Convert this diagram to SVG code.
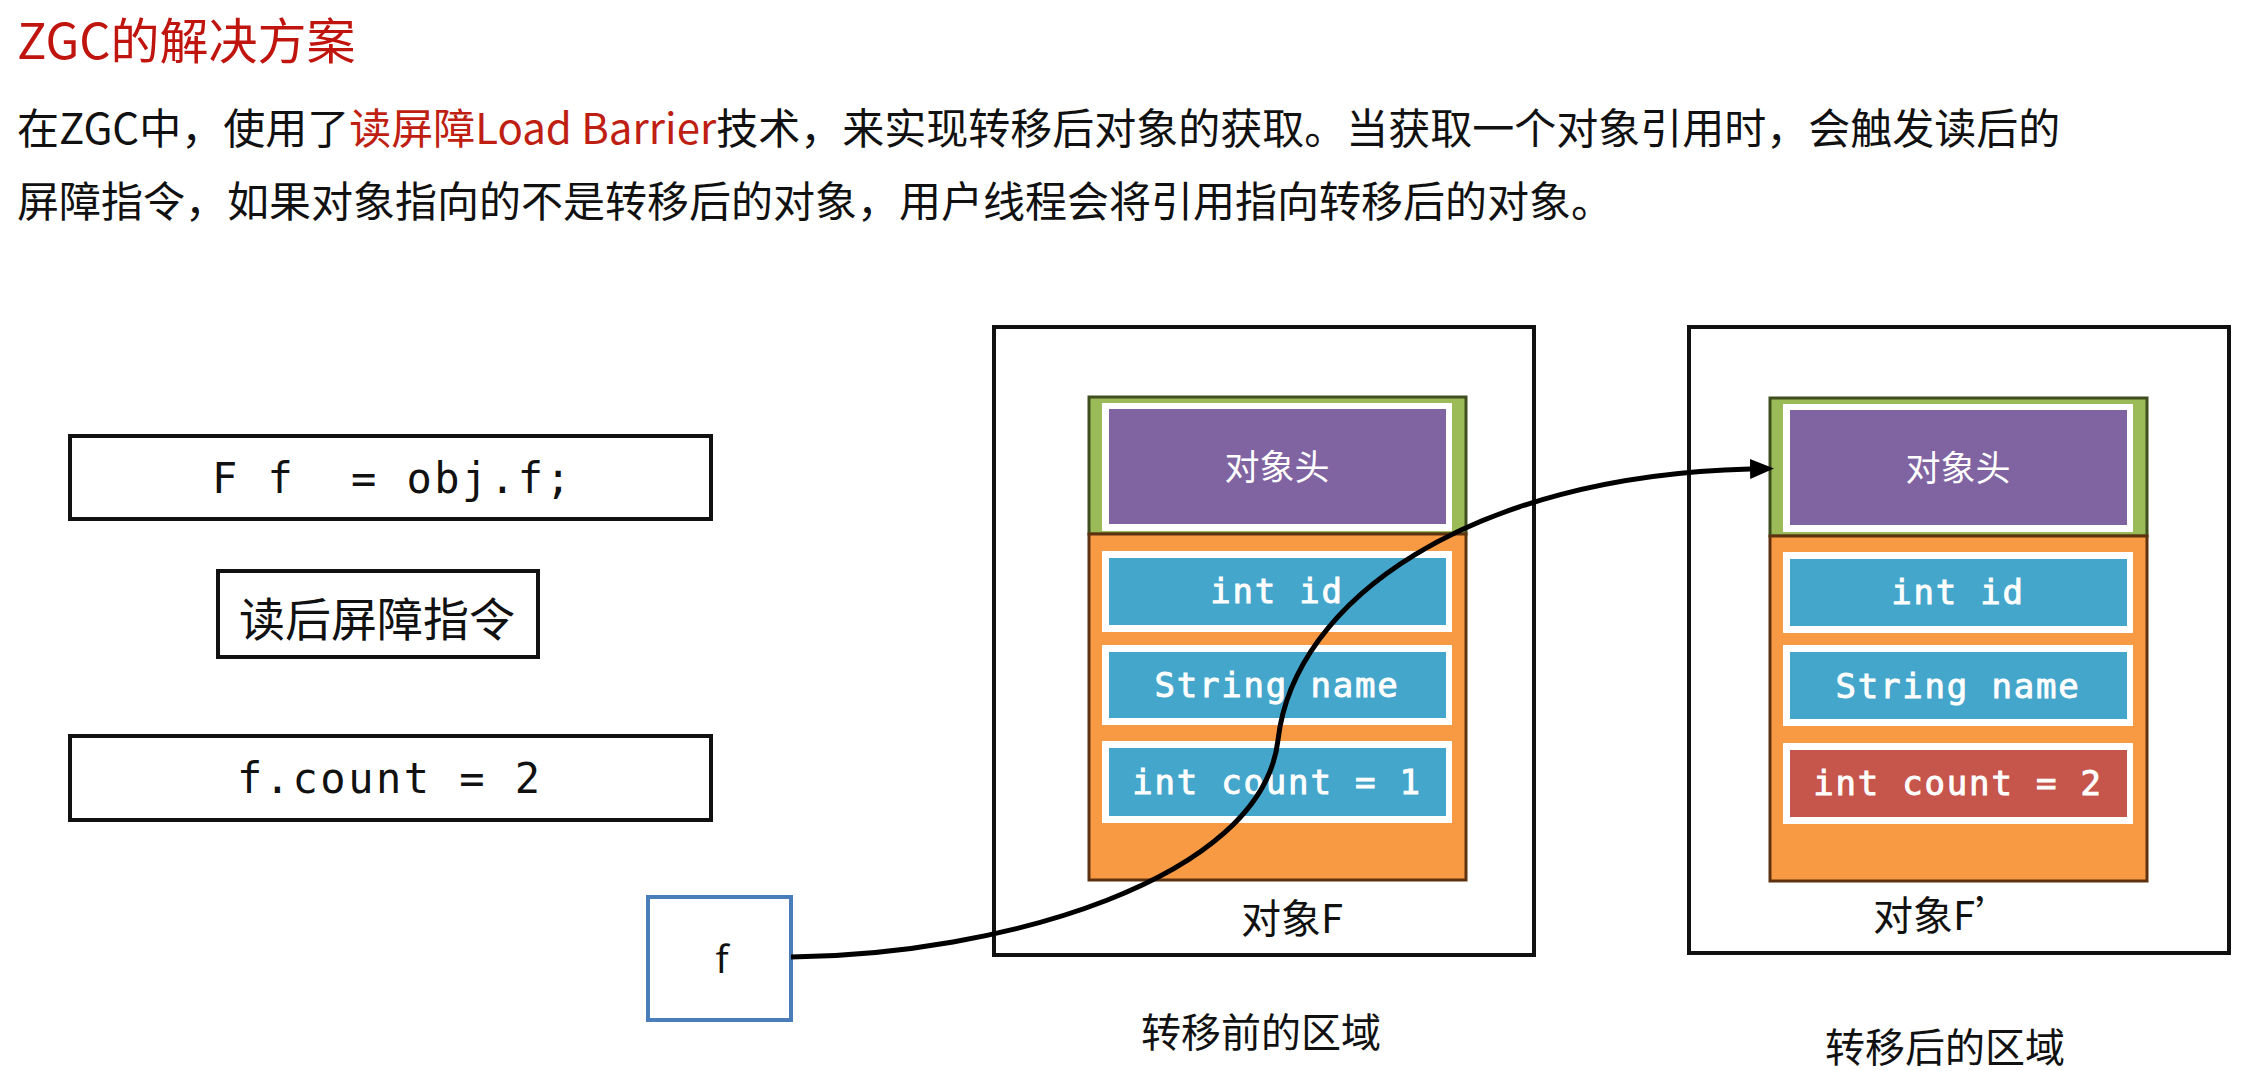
<svg xmlns="http://www.w3.org/2000/svg" width="2264" height="1071" viewBox="0 0 2264 1071">
<defs>
<style>
.cjk{font-family:"Noto Sans CJK SC","Noto Sans",sans-serif;}
.mono{font-family:"DejaVu Sans Mono","Liberation Mono",monospace;}
.box{fill:#fff;stroke:#111;stroke-width:4;}
.region{fill:#fff;stroke:#111;stroke-width:4;}
.hdr{fill:#9BBB59;stroke:#3E4E1E;stroke-width:3;}
.body{fill:#F89A44;stroke:#5E3210;stroke-width:3;}
.wb{fill:#fff;}
.purple{fill:#8064A2;}
.blue{fill:#45A6CC;}
.red{fill:#C6554C;}
.fld{font-family:"DejaVu Sans Mono","Liberation Mono",monospace;font-size:34px;letter-spacing:1.8px;fill:#fff;stroke:#fff;stroke-width:0.9px;text-anchor:middle;}
.hdrt{font-family:"Noto Sans CJK SC",sans-serif;font-size:35px;fill:#fff;text-anchor:middle;}
.lbl{font-family:"Noto Sans CJK SC",sans-serif;font-size:40px;fill:#111;text-anchor:middle;}
</style>
<marker id="ah" markerUnits="userSpaceOnUse" markerWidth="24" markerHeight="20" refX="0" refY="10" orient="auto">
<path d="M0,0 L24,10 L0,20 z" fill="#000"/>
</marker>
</defs>
<rect width="2264" height="1071" fill="#fff"/>

<g id="title">
<text class="cjk" x="17" y="59" font-size="49" fill="#C0150F">ZGC的解决方案</text>
</g>
<g id="desc" class="cjk" font-size="42" fill="#111">
<text x="17" y="144">在ZGC中，使用了<tspan fill="#BF1E12">读屏障Load Barrier</tspan>技术，来实现转移后对象的获取。当获取一个对象引用时，会触发读后的</text>
<text x="17" y="217">屏障指令，如果对象指向的不是转移后的对象，用户线程会将引用指向转移后的对象。</text>
</g>

<g id="code1">
<rect class="box" x="70" y="436" width="641" height="83"/>
<text class="mono" x="212" y="493" font-size="42" letter-spacing="2.5" fill="#111" style="white-space:pre" xml:space="preserve">F f  = obj.f;</text>
</g>
<g id="barrier">
<rect class="box" x="218" y="571" width="320" height="86"/>
<text class="cjk" x="377" y="636" font-size="46" fill="#111" text-anchor="middle">读后屏障指令</text>
</g>
<g id="code2">
<rect class="box" x="70" y="736" width="641" height="84"/>
<text class="mono" x="237" y="793" font-size="42" letter-spacing="2.5" fill="#111" style="white-space:pre" xml:space="preserve">f.count = 2</text>
</g>

<g id="ref-f">
<rect x="648" y="897" width="143" height="123" fill="#fff" stroke="#4A7EBB" stroke-width="4"/>
<text x="722" y="973" font-family="Noto Sans, Liberation Sans, sans-serif" font-size="38" fill="#111" text-anchor="middle">f</text>
</g>

<g id="region-before">
<rect class="region" x="994" y="327" width="540" height="628"/>
<g id="objF">
<rect class="hdr" x="1089" y="397" width="377" height="137"/>
<rect class="wb" x="1102" y="403" width="350" height="128"/>
<rect class="purple" x="1109" y="409" width="337" height="115"/>
<text class="hdrt" x="1277" y="480">对象头</text>
<rect class="body" x="1089" y="534" width="377" height="346"/>
<rect class="wb" x="1102" y="551" width="350" height="81"/>
<rect class="blue" x="1109" y="558" width="337" height="67"/>
<text class="fld" x="1277" y="603">int id</text>
<rect class="wb" x="1102" y="645" width="350" height="80"/>
<rect class="blue" x="1109" y="652" width="337" height="66"/>
<text class="fld" x="1277" y="697">String name</text>
<rect class="wb" x="1102" y="741" width="350" height="82"/>
<rect class="blue" x="1109" y="748" width="337" height="68"/>
<text class="fld" x="1277" y="794">int count = 1</text>
</g>
<text class="lbl" x="1292" y="933">对象F</text>
<text class="lbl" x="1261" y="1047">转移前的区域</text>
</g>

<g id="region-after">
<rect class="region" x="1689" y="327" width="540" height="626"/>
<g id="objF2">
<rect class="hdr" x="1770" y="398" width="377" height="138"/>
<rect class="wb" x="1783" y="404" width="350" height="128"/>
<rect class="purple" x="1790" y="410" width="337" height="115"/>
<text class="hdrt" x="1958" y="481">对象头</text>
<rect class="body" x="1770" y="536" width="377" height="345"/>
<rect class="wb" x="1783" y="552" width="350" height="81"/>
<rect class="blue" x="1790" y="559" width="337" height="67"/>
<text class="fld" x="1958" y="604">int id</text>
<rect class="wb" x="1783" y="645" width="350" height="81"/>
<rect class="blue" x="1790" y="652" width="337" height="67"/>
<text class="fld" x="1958" y="698">String name</text>
<rect class="wb" x="1783" y="743" width="350" height="81"/>
<rect class="red" x="1790" y="750" width="337" height="67"/>
<text class="fld" x="1958" y="795">int count = 2</text>
</g>
<text class="lbl" x="1944" y="930">对象F’</text>
<text class="lbl" x="1945" y="1062" font-size="41">转移后的区域</text>
</g>

<g id="connectors">
<path d="M791,957 C1000,955 1262,880 1278,740 C1294,600 1470,476 1750,469" fill="none" stroke="#000" stroke-width="5" marker-end="url(#ah)"/>
</g>
</svg>
